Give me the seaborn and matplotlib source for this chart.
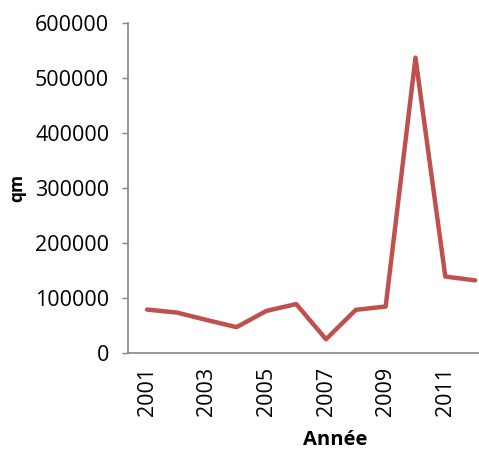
import matplotlib
matplotlib.use("Agg")
import matplotlib.pyplot as plt
import seaborn as sns
import pandas as pd

years = [2001, 2002, 2003, 2004, 2005, 2006, 2007, 2008, 2009, 2010, 2011, 2012]
qm = [79000, 73500, 60000, 47000, 76500, 89000, 25000, 78500, 84500, 537000, 139000, 132000]

df = pd.DataFrame({"pos": range(len(years)), "qm": qm})

sns.set_style("white")
plt.rcParams['font.family'] = ['Open Sans', 'DejaVu Sans']
plt.rcParams['text.color'] = 'black'
plt.rcParams['axes.labelcolor'] = 'black'
plt.rcParams['xtick.color'] = 'black'
plt.rcParams['ytick.color'] = 'black'

fig = plt.figure(figsize=(4.79, 4.5), dpi=100)
ax = fig.add_axes([128 / 479, 97 / 450, 351 / 479, 330 / 450])

sns.lineplot(data=df, x="pos", y="qm", color="#C0504D", linewidth=3.2, ax=ax)

ax.set_xlim(-0.64, 11.13)
ax.set_ylim(0, 600000)
ax.set_yticks(range(0, 600001, 100000))
ax.set_yticklabels([str(v) for v in range(0, 600001, 100000)], fontsize=15.5)
ax.set_xticks(range(0, len(years), 2))
ax.set_xticklabels([str(y) for y in years[::2]], rotation=90, fontsize=15.5)

ax.tick_params(axis="y", length=4.5, width=1, color="#868686", direction="out", left=True, pad=9)
ax.tick_params(axis="x", length=0, pad=10)

for s in ["top", "right"]:
    ax.spines[s].set_visible(False)
for s in ["left", "bottom"]:
    ax.spines[s].set_color("#868686")
    ax.spines[s].set_linewidth(1.2)

ax.set_xlabel("Année", fontsize=14.5, fontweight="bold")
ax.set_ylabel("qm", fontsize=12.5, fontweight="bold")
ax.xaxis.set_label_coords(0.59, -0.232)
ax.yaxis.set_label_coords(-0.29, 0.5)

fig.savefig("out.png", dpi=100)
